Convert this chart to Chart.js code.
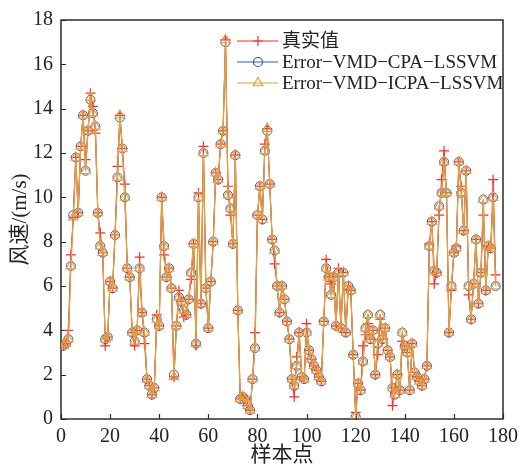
<!DOCTYPE html>
<html>
<head>
<meta charset="utf-8">
<script src="https://cdn.jsdelivr.net/npm/chart.js@4.4.1/dist/chart.umd.min.js"></script>
<style>
  body { margin: 0; background: #fff; }
  canvas { display: block; }
</style>
</head>
<body>
<canvas id="wind-chart" width="524" height="469"></canvas>
<script>
// real wind speed and the two model forecasts, sample 1..177
var actual = [
  3.3, 3.4, 4.0, 7.4, 9.1, 11.8, 9.3, 12.3, 13.7, 11.7,
  13.0, 14.7, 14.1, 12.9, 9.3, 8.4, 7.5, 3.3, 3.7, 6.2,
  5.9, 8.3, 11.4, 13.7, 12.2, 10.6, 6.8, 6.4, 3.9, 3.3,
  4.0, 7.3, 4.8, 3.4, 1.8, 1.5, 1.1, 1.4, 4.7, 4.2,
  10.0, 7.4, 6.4, 6.8, 5.9, 1.9, 4.2, 5.8, 5.3, 4.6,
  4.7, 5.4, 6.3, 7.9, 3.3, 10.2, 5.2, 12.3, 5.9, 4.1,
  6.2, 8.0, 11.1, 10.8, 12.4, 13.0, 17.1, 10.5, 9.2, 7.9,
  11.9, 4.9, 0.9, 1.0, 0.9, 0.6, 0.4, 1.8, 3.9, 9.2,
  10.5, 9.0, 12.4, 13.1, 10.6, 8.1, 7.0, 6.0, 4.8, 6.0,
  5.4, 4.4, 3.6, 1.8, 1.0, 2.8, 3.9, 1.9, 1.8, 4.3,
  3.1, 2.7, 2.4, 2.2, 1.9, 1.7, 4.4, 7.2, 6.4, 6.1,
  6.4, 4.2, 6.8, 4.1, 6.6, 3.9, 6.0, 5.8, 2.9, 0.3,
  1.6, 1.3, 3.3, 3.8, 4.3, 3.6, 4.0, 2.0, 2.9, 4.5,
  3.6, 4.1, 3.1, 2.8, 0.6, 1.4, 2.0, 1.3, 3.5, 3.3,
  3.0, 1.3, 3.4, 2.1, 1.9, 1.7, 1.5, 1.8, 2.4, 7.9,
  8.9, 6.1, 6.6, 9.2, 10.8, 12.1, 10.2, 3.9, 5.8, 7.5,
  7.8, 11.6, 10.5, 8.5, 11.2, 5.6, 4.5, 6.1, 8.1, 5.2,
  6.6, 9.2, 5.8, 7.8, 7.7, 10.8, 6.5
];
var cpa = [
  3.3, 3.4, 3.6, 6.9, 9.2, 11.8, 9.3, 12.3, 13.7, 11.2,
  13.0, 14.4, 13.8, 13.2, 9.3, 7.8, 7.5, 3.6, 3.7, 6.2,
  5.9, 8.3, 10.9, 13.6, 12.2, 10.0, 6.8, 6.4, 3.9, 3.5,
  4.0, 6.8, 4.8, 3.9, 1.8, 1.5, 1.1, 1.4, 4.5, 4.2,
  10.0, 7.8, 6.4, 6.8, 5.9, 2.0, 4.2, 5.5, 5.3, 4.9,
  4.7, 5.4, 6.6, 7.9, 3.4, 10.0, 5.2, 12.0, 5.9, 4.1,
  6.2, 8.0, 11.1, 10.8, 12.4, 13.0, 17.0, 10.1, 9.5, 7.9,
  11.9, 4.9, 0.9, 1.0, 0.9, 0.6, 0.4, 1.8, 3.2, 9.2,
  10.5, 9.0, 12.1, 13.0, 10.6, 8.1, 7.6, 6.0, 4.8, 6.0,
  5.4, 4.4, 3.6, 1.8, 1.5, 2.4, 3.9, 1.9, 1.8, 3.9,
  3.1, 2.7, 2.4, 2.2, 1.9, 1.7, 4.4, 6.8, 6.4, 5.6,
  6.4, 4.2, 6.6, 4.1, 6.6, 3.9, 6.0, 5.8, 2.9, 0.1,
  1.6, 1.3, 2.6, 4.1, 4.7, 3.6, 4.0, 2.0, 3.4, 4.7,
  3.6, 4.1, 3.1, 2.8, 1.4, 1.1, 2.0, 1.3, 3.9, 3.3,
  3.0, 1.3, 3.4, 2.1, 1.9, 1.7, 1.5, 1.8, 2.4, 7.8,
  8.9, 6.7, 6.6, 9.6, 10.2, 11.6, 10.2, 3.9, 6.0, 7.5,
  7.7, 11.6, 10.2, 8.5, 11.2, 6.0, 4.5, 6.1, 8.1, 5.2,
  6.6, 9.9, 5.8, 7.8, 7.7, 10.0, 6.0
];
var icpa = [
  3.3, 3.4, 3.6, 6.9, 9.1, 11.8, 9.3, 12.3, 13.7, 11.2,
  13.0, 14.5, 13.8, 13.2, 9.3, 7.8, 7.5, 3.6, 3.7, 6.2,
  5.9, 8.3, 10.9, 13.7, 12.2, 10.0, 6.8, 6.4, 3.9, 3.5,
  4.0, 6.8, 4.8, 3.9, 1.8, 1.5, 1.1, 1.4, 4.5, 4.2,
  10.0, 7.8, 6.4, 6.8, 5.9, 1.9, 4.2, 5.5, 5.3, 4.9,
  4.7, 5.4, 6.6, 7.9, 3.4, 10.0, 5.2, 12.0, 5.9, 4.1,
  6.2, 8.0, 11.1, 10.8, 12.4, 13.0, 17.1, 10.1, 9.5, 7.9,
  11.9, 4.9, 0.9, 1.0, 0.9, 0.6, 0.4, 1.8, 3.2, 9.2,
  10.5, 9.0, 12.1, 13.1, 10.6, 8.1, 7.6, 6.0, 4.8, 6.0,
  5.4, 4.4, 3.6, 1.8, 1.5, 2.4, 3.9, 1.9, 1.8, 3.9,
  3.1, 2.7, 2.4, 2.2, 1.9, 1.7, 4.4, 6.8, 6.4, 5.6,
  6.4, 4.2, 6.6, 4.1, 6.6, 3.9, 6.0, 5.8, 2.9, 0.1,
  1.6, 1.3, 2.6, 4.1, 4.7, 3.6, 4.0, 2.0, 3.4, 4.7,
  3.6, 4.1, 3.1, 2.8, 1.4, 1.1, 2.0, 1.3, 3.9, 3.3,
  3.0, 1.3, 3.4, 2.1, 1.9, 1.7, 1.5, 1.8, 2.4, 7.8,
  8.9, 6.7, 6.6, 9.6, 10.2, 11.6, 10.2, 3.9, 6.0, 7.5,
  7.7, 11.6, 10.2, 8.5, 11.2, 6.0, 4.5, 6.1, 8.1, 5.2,
  6.6, 9.9, 5.8, 7.8, 7.7, 10.0, 6.0
];
var seriesNames = ['真实值', 'Error\u2212VMD\u2212CPA\u2212LSSVM', 'Error\u2212VMD\u2212ICPA\u2212LSSVM'];
var xTicks = [0, 20, 40, 60, 80, 100, 120, 140, 160, 180];
var yTicks = [0, 2, 4, 6, 8, 10, 12, 14, 16, 18];
var xTitle = '样本点';
var yTitle = '风速/(m/s)';

var serif = '"Liberation Serif", "Noto Sans CJK SC", serif';

function toPoints(arr) {
    return arr.map(function (v, i) { return { x: i + 1, y: v }; });
}

var framePlugin = {
    id: 'frame',
    beforeDatasetsDraw: function (chart) {
        var ctx = chart.ctx, a = chart.chartArea;
        var sx = chart.scales.x, sy = chart.scales.y;
        ctx.save();
        ctx.strokeStyle = '#2b2b2b';
        ctx.lineWidth = 1.5;
        ctx.strokeRect(a.left, a.top, a.right - a.left, a.bottom - a.top);
        ctx.lineWidth = 1.2;
        ctx.beginPath();
        sx.ticks.forEach(function (t) {
            var px = Math.round(sx.getPixelForValue(t.value)) + 0.5;
            ctx.moveTo(px, a.bottom);
            ctx.lineTo(px, a.bottom - 5);
        });
        sy.ticks.forEach(function (t) {
            var py = Math.round(sy.getPixelForValue(t.value)) + 0.5;
            ctx.moveTo(a.left, py);
            ctx.lineTo(a.left + 5, py);
        });
        ctx.stroke();

        // axis titles
        ctx.fillStyle = '#222';
        ctx.font = '21px ' + serif;
        ctx.textAlign = 'center';
        ctx.textBaseline = 'middle';
        ctx.fillText(xTitle, (a.left + a.right) / 2, 455);
        ctx.translate(20, (a.top + a.bottom) / 2);
        ctx.rotate(-Math.PI / 2);
        ctx.fillText(yTitle, 0, 0);
        ctx.restore();
    },
    afterDraw: function (chart) {
        // legend in the upper right of the plot
        var ctx = chart.ctx;
        var rows = [41, 62, 83];
        ctx.save();
        chart.data.datasets.forEach(function (ds, i) {
            var y = rows[i];
            ctx.strokeStyle = ds.borderColor;
            ctx.lineWidth = 1.2;
            ctx.beginPath();
            ctx.moveTo(237, y);
            ctx.lineTo(278, y);
            ctx.stroke();
            ctx.strokeStyle = ds.pointBorderColor;
            ctx.fillStyle = 'rgba(255,255,255,0)';
            Chart.helpers.drawPoint(ctx, {
                pointStyle: ds.pointStyle,
                radius: ds.pointRadius,
                rotation: 0,
                borderWidth: ds.pointBorderWidth
            }, 258, y);
            ctx.fillStyle = '#222';
            ctx.font = '19px ' + serif;
            ctx.textAlign = 'left';
            ctx.textBaseline = 'middle';
            ctx.fillText(ds.label, 282, y + 1);
        });
        ctx.restore();
    }
};

var ctx = document.getElementById('wind-chart').getContext('2d');
var chart = new Chart(ctx, {
    type: 'line',
    data: {
        datasets: [{
            label: seriesNames[0],
            data: toPoints(actual),
            borderColor: '#ff2a2a',
            borderWidth: 1,
            pointStyle: 'cross',
            pointRadius: 5,
            pointBorderColor: '#ff2a2a',
            pointBorderWidth: 1.2,
            pointBackgroundColor: 'rgba(0,0,0,0)',
            order: 1
        }, {
            label: seriesNames[1],
            data: toPoints(cpa),
            borderColor: '#2a5cc0',
            borderWidth: 1,
            pointStyle: 'circle',
            pointRadius: 4.5,
            pointBorderColor: '#2a5cc0',
            pointBorderWidth: 1,
            pointBackgroundColor: 'rgba(0,0,0,0)',
            order: 2
        }, {
            label: seriesNames[2],
            data: toPoints(icpa),
            borderColor: '#e3a23a',
            borderWidth: 1.3,
            pointStyle: 'triangle',
            pointRadius: 5.5,
            pointBorderColor: '#e3a23a',
            pointBorderWidth: 1.1,
            pointBackgroundColor: 'rgba(0,0,0,0)',
            order: 0
        }]
    },
    options: {
        responsive: false,
        animation: false,
        layout: { padding: { left: 0, right: 15, top: 20, bottom: 0 } },
        plugins: {
            legend: { display: false },
            tooltip: { enabled: false }
        },
        elements: { line: { tension: 0 } },
        scales: {
            x: {
                type: 'linear',
                min: 0,
                max: 180,
                afterBuildTicks: function (s) { s.ticks = xTicks.map(function (v) { return { value: v }; }); },
                afterFit: function (s) { s.height = 50; },
                grid: { display: false, drawTicks: false },
                border: { display: false },
                ticks: { font: { family: serif, size: 20 }, color: '#222', padding: 6, maxRotation: 0, autoSkip: false }
            },
            y: {
                min: 0,
                max: 18,
                afterBuildTicks: function (s) { s.ticks = yTicks.map(function (v) { return { value: v }; }); },
                afterFit: function (s) { s.width = 61; },
                grid: { display: false, drawTicks: false },
                border: { display: false },
                ticks: { font: { family: serif, size: 20 }, color: '#222', padding: 8 }
            }
        }
    },
    plugins: [framePlugin]
});
</script>
</body>
</html>
